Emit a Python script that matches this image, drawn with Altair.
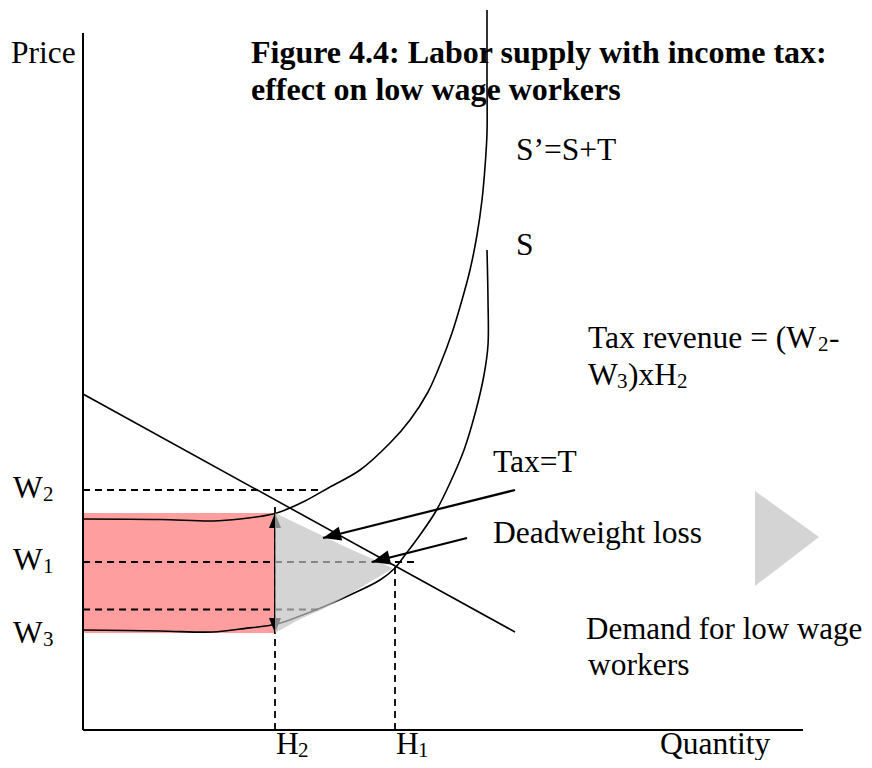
import math
import altair as alt
import pandas as pd

# ---- coordinates: quantity (q) and price (p) in diagram units, origin at the axes corner ----
axis_q = [0, 0, 720]          # y-axis top/bottom, x-axis end
axis_p = [697, 0, 0]

demand_q = [0, 432]
demand_p = [336, 98]

s_prime_q = [404, 404, 404, 402, 399, 394, 387, 379, 369, 357, 345, 327, 307, 277, 247, 222, 202, 190, 157, 130, 77, 0]
s_prime_p = [720, 650, 597, 563, 530, 495, 460, 430, 397, 365, 338, 310, 287, 260, 243, 229, 220, 216, 211, 209, 210.5, 211]

s_q = [404, 405, 405, 401, 393, 381, 367, 353, 337, 322, 312, 297, 267, 240, 217, 194, 157, 130, 77, 0]
s_p = [480, 430, 385, 355, 320, 280, 247, 219, 195, 175, 162, 150, 135, 123, 114, 106, 101, 98, 99, 100]

# dashed guide lines: (q1, p1, q2, p2)
dash_q1 = [0, 0, 0, 192, 312]
dash_p1 = [240, 168, 120.5, 0, 0]
dash_q2 = [240, 335, 240, 192, 312]
dash_p2 = [240, 168, 120.5, 223, 163]

# tax revenue rectangle
rev_q = [0, 192]
rev_p = [97, 217]

# deadweight loss triangle
dwl_q = [192, 217, 240, 267, 292, 309]
dwl_top = [217, 205, 194, 181, 170, 162]
dwl_bot = [97, 111, 121, 136, 151, 161]

# decorative grey triangle on the right
tri_q = [672, 736]
tri_top = [239, 193]
tri_bot = [144, 193]

# arrows: tail -> tip
arrow_tail_q = [432, 384, 192, 192]
arrow_tail_p = [240, 192, 157, 157]
arrow_tip_q = [240, 289, 192, 192]
arrow_tip_p = [192, 168, 217, 97]

# labels (31.5px)
lab_text = ["Price", "S\u2019=S+T", "S", "Tax revenue = (W", "-", "W", ")xH", "Tax=T",
            "Deadweight loss", "workers", "Quantity",
            "W", "W", "W", "H", "H"]
lab_q = [-72, 433, 433, 505, 746, 505, 545, 410, 410, 505, 577, -70, -70, -70, 193, 313]
lab_p = [667, 570, 475, 382, 382, 345, 345, 258, 187, 55, -24, 232, 160, 87, -24, -24]

# long label near the right edge (slightly smaller so it stays inside)
demand_text = ["Demand for low wage"]
demand_lab_q = [503]
demand_lab_p = [91]

sub_text = ["2", "3", "2", "2", "1", "3", "2", "1"]
sub_q = [735, 534, 594, -40, -40, -40, 215, 335]
sub_p = [379, 342, 342, 229, 157, 84, -26.5, -26.5]

title_lines = ["Figure 4.4: Labor supply with income tax:", "effect on low wage workers"]
title_q = [168, 168]
title_p = [667, 630]

FONT = "Liberation Serif"
W, H = 856, 752
xs = alt.Scale(domain=[-75, 781], nice=False, zero=False)
ys = alt.Scale(domain=[-30, 722], nice=False, zero=False)


def X(f="q"):
    return alt.X(f, type="quantitative", scale=xs, axis=None)


def Y(f="p"):
    return alt.Y(f, type="quantitative", scale=ys, axis=None)


# data frames
rect_df = pd.DataFrame({"q": [rev_q[0]], "q2": [rev_q[1]], "p": [rev_p[0]], "p2": [rev_p[1]]})
dash_df = pd.DataFrame({"q": dash_q1, "p": dash_p1, "q2": dash_q2, "p2": dash_p2})
curves = []
for name, qs, ps in [("S'", s_prime_q, s_prime_p), ("S", s_q, s_p), ("D", demand_q, demand_p)]:
    for i, (a, b) in enumerate(zip(qs, ps)):
        curves.append({"series": name, "i": i, "q": a, "p": b})
curve_df = pd.DataFrame(curves)
axis_df = pd.DataFrame({"q": [axis_q[0], axis_q[1]], "p": [axis_p[0], axis_p[1]],
                        "q2": [axis_q[1], axis_q[2]], "p2": [axis_p[1], axis_p[2]]})
dwl_df = pd.DataFrame({"q": dwl_q, "p": dwl_top, "p2": dwl_bot})
tri_df = pd.DataFrame({"q": tri_q, "p": tri_top, "p2": tri_bot})

arr_rows = []
for tq, tp, hq, hp in zip(arrow_tail_q, arrow_tail_p, arrow_tip_q, arrow_tip_p):
    ang = math.degrees(math.atan2(-(hp - tp), hq - tq)) % 360
    arr_rows.append({"q": tq, "p": tp, "q2": hq, "p2": hp, "ang": ang})
arr_df = pd.DataFrame(arr_rows)
slant_df = arr_df.iloc[:2].copy()
vert_df = arr_df.iloc[2:].copy()
slant_df["sz"] = 1296
vert_df["sz"] = 900

label_df = pd.DataFrame({"t": lab_text, "q": lab_q, "p": lab_p})
demand_df = pd.DataFrame({"t": demand_text, "q": demand_lab_q, "p": demand_lab_p})
sub_df = pd.DataFrame({"t": sub_text, "q": sub_q, "p": sub_p})
title_df = pd.DataFrame({"t": title_lines, "q": title_q, "p": title_p})

HEAD = "M0,0 L-1,-0.4 L-1,0.4 Z"

rect = alt.Chart(rect_df).mark_rect(color="#ff9e9e").encode(x=X(), x2="q2", y=Y(), y2="p2")
dashes = alt.Chart(dash_df).mark_rule(color="black", strokeWidth=1.8, strokeDash=[7, 5]).encode(
    x=X(), x2="q2", y=Y(), y2="p2")
tri = alt.Chart(tri_df).mark_area(color="#d4d4d4").encode(x=X(), y=Y(), y2="p2")
lines = alt.Chart(curve_df).mark_line(color="black", strokeWidth=1.6, interpolate="catmull-rom").encode(
    x=X(), y=Y(), detail="series:N", order="i:Q")
axes = alt.Chart(axis_df).mark_rule(color="black", strokeWidth=2).encode(x=X(), x2="q2", y=Y(), y2="p2")
vshaft = alt.Chart(vert_df).mark_rule(color="black", strokeWidth=1.8).encode(x=X(), x2="q2", y=Y(), y2="p2")
vheads = alt.Chart(vert_df).mark_point(shape=HEAD, filled=True, opacity=1, color="black").encode(
    x=X("q2"), y=Y("p2"), angle=alt.Angle("ang:Q", scale=None), size=alt.Size("sz:Q", scale=None))
dwl = alt.Chart(dwl_df).mark_area(color="#c2c2c2", opacity=0.7).encode(x=X(), y=Y(), y2="p2")
sshaft = alt.Chart(slant_df).mark_rule(color="black", strokeWidth=2.2).encode(x=X(), x2="q2", y=Y(), y2="p2")
sheads = alt.Chart(slant_df).mark_point(shape=HEAD, filled=True, opacity=1, color="black").encode(
    x=X("q2"), y=Y("p2"), angle=alt.Angle("ang:Q", scale=None), size=alt.Size("sz:Q", scale=None))

labels = alt.Chart(label_df).mark_text(font=FONT, fontSize=31.5, align="left", baseline="alphabetic",
                                       color="black").encode(x=X(), y=Y(), text="t:N")
demand_lab = alt.Chart(demand_df).mark_text(font=FONT, fontSize=31, align="left", baseline="alphabetic",
                                            color="black").encode(x=X(), y=Y(), text="t:N")
subs = alt.Chart(sub_df).mark_text(font=FONT, fontSize=21, align="left", baseline="alphabetic",
                                   color="black").encode(x=X(), y=Y(), text="t:N")
title = alt.Chart(title_df).mark_text(font=FONT, fontSize=32, fontWeight="bold", align="left",
                                      baseline="alphabetic", color="black").encode(x=X(), y=Y(), text="t:N")

chart = alt.layer(rect, dashes, tri, lines, axes, vshaft, vheads, dwl, sshaft, sheads,
                  labels, demand_lab, subs, title).properties(
    width=W, height=H, padding=0, autosize=alt.AutoSizeParams(type="none"),
    background="white"
).configure_view(stroke=None)

chart.save("out.html", embed_options={"renderer": "svg", "actions": False})
